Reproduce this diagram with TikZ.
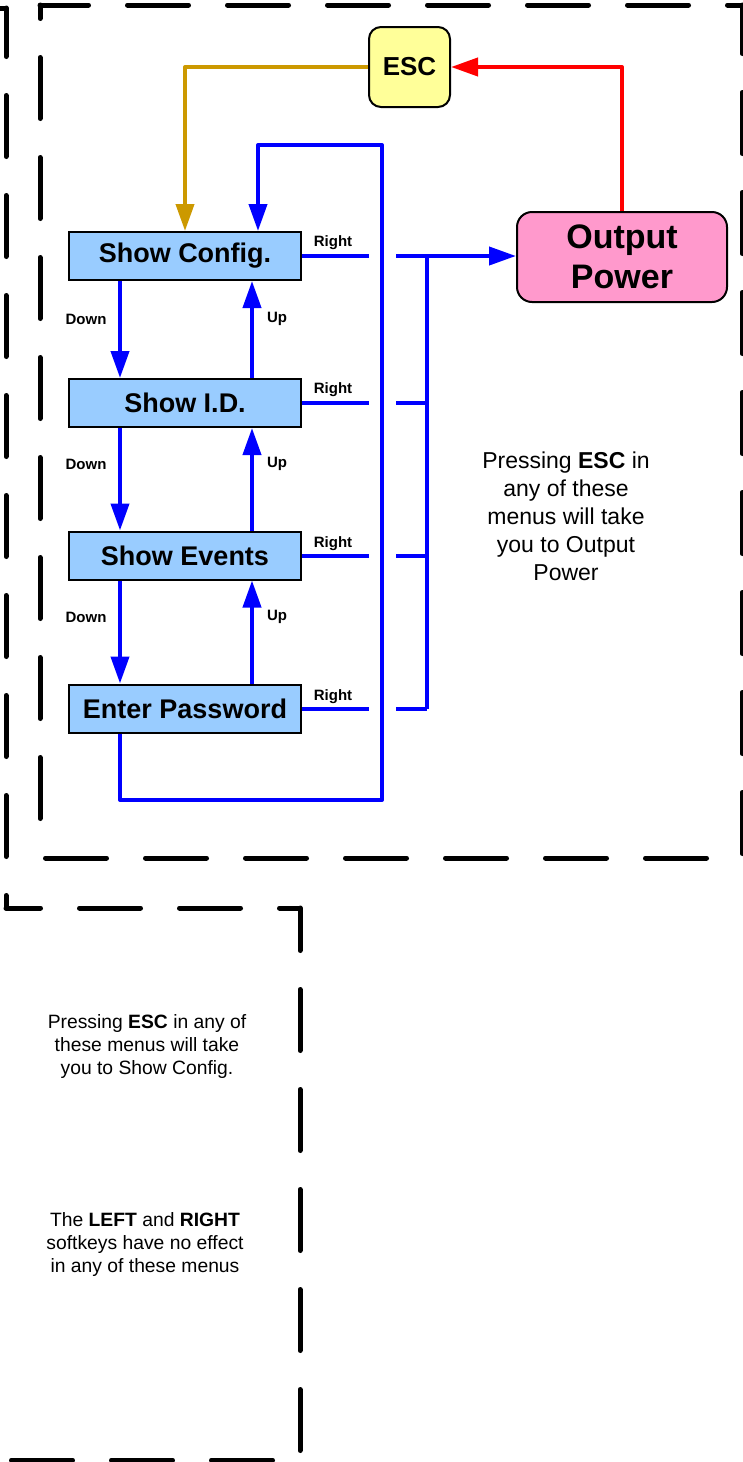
\documentclass[tikz,border=0pt]{standalone}
\usepackage{fontspec}
\setmainfont{Liberation Sans}
\usetikzlibrary{arrows.meta,calc}

\definecolor{menublue}{HTML}{99CCFF}
\definecolor{escyellow}{HTML}{FFFF99}
\definecolor{outpink}{HTML}{FF99CC}
\definecolor{escorange}{HTML}{CC9900}
\definecolor{linkblue}{HTML}{0000FF}
\definecolor{linkred}{HTML}{FF0000}

\tikzset{
  menubox/.style={draw=black, line width=2pt, fill=menublue, minimum width=232pt,
    minimum height=48pt, inner sep=0pt, font=\fontsize{27}{32}\selectfont\bfseries},
  escbox/.style={draw=black, line width=2pt, fill=escyellow, rounded corners=12pt,
    minimum width=81pt, minimum height=80pt, inner sep=0pt,
    font=\fontsize{26}{31}\selectfont\bfseries},
  outbox/.style={draw=black, line width=2pt, fill=outpink, rounded corners=15pt,
    minimum width=210pt, minimum height=90pt, inner sep=0pt, align=center,
    font=\fontsize{34}{40}\selectfont\bfseries},
  tipstyle/.style={-{Triangle[length=27pt,width=18pt]}},
  bline/.style={draw=linkblue, line width=4pt, line join=round},
  barrow/.style={bline, tipstyle},
  oarrow/.style={draw=escorange, line width=4pt, line join=round, tipstyle},
  rarrow/.style={draw=linkred, line width=4pt, line join=round, tipstyle},
  keylbl/.style={inner sep=0pt, font=\fontsize{15}{18}\selectfont\bfseries},
  note/.style={inner sep=0pt, align=center},
  border/.style={draw=black, line width=5pt, line cap=round, dash pattern=on 61pt off 39pt},
}

\begin{document}
\begin{tikzpicture}[x=1pt, y=-1pt]
\useasboundingbox (0,0) rectangle (743,1462);

% dashed group outlines
\draw[border, dash phase=12.5pt] (40,5) -- (742,5);
\draw[border, dash phase=12.5pt] (742,5) -- (742,858);
\draw[border, dash phase=94.5pt] (40,858) -- (742,858);
\draw[border, dash phase=47.5pt] (40,5) -- (40,850);
\draw[border, dash pattern=] (0,8) -- (6,8);
\draw[border, dash phase=12.5pt] (6,8) -- (6,908);
\draw[border, dash phase=26.5pt] (6,908) -- (300,908);
\draw[border, dash phase=18.5pt] (300,908) -- (300,1460);
\draw[border, dash phase=72.5pt] (300,1460) -- (0,1460);

% menu boxes
\node[menubox] (cfg) at (185,256) {Show Config.};
\node[menubox] (sid) at (185,403) {Show I.D.};
\node[menubox] (sev) at (185,555.5) {Show Events};
\node[menubox] (pwd) at (185,708.5) {Enter Password};
\node[escbox] (esc) at (409.5,67) {ESC};
\node[outbox] (out) at (622,257) {Output\\Power};

% helper coordinates for the right-hand wiring
\coordinate (hopL) at (369,0);
\coordinate (hopR) at (396,0);
\coordinate (busx) at (427,0);
\coordinate (lb) at (382,800);
\coordinate (lt) at (382,145);

% Down / Up links
\draw[barrow] ([xshift=-65pt]cfg.south) -- ([xshift=-65pt]sid.north);
\draw[barrow] ([xshift=-65pt]sid.south) -- ([xshift=-65pt]sev.north);
\draw[barrow] ([xshift=-65pt]sev.south) -- ([xshift=-65pt]pwd.north);
\draw[barrow] ([xshift=67pt]sid.north) -- ([xshift=67pt]cfg.south);
\draw[barrow] ([xshift=67pt]sev.north) -- ([xshift=67pt]sid.south);
\draw[barrow] ([xshift=67pt]pwd.north) -- ([xshift=67pt]sev.south);

% wrap-around from Enter Password back to Show Config.
\draw[barrow] ([xshift=-65pt]pwd.south) |- (lb) -- (lt) -| ([xshift=73pt]cfg.north);

% Right links, hopping over the wrap-around line
\draw[bline] (cfg.east) -- (cfg.east -| hopL);
\draw[bline] (sid.east) -- (sid.east -| hopL) (sid.east -| hopR) -- (sid.east -| busx);
\draw[bline] (sev.east) -- (sev.east -| hopL) (sev.east -| hopR) -- (sev.east -| busx);
\draw[bline] (pwd.east) -- (pwd.east -| hopL) (pwd.east -| hopR) -- (pwd.east -| busx);
\draw[bline] (cfg.east -| busx) -- (pwd.east -| busx);
\draw[barrow] (cfg.east -| hopR) -- (cfg.east -| out.west);

% ESC links
\draw[oarrow] (esc.west) -| (cfg.north);
\draw[rarrow] (out.north) |- (esc.east);

% key labels
\node[keylbl] (r1) at (333,243) {Right};
\node[keylbl] (r2) at (333,390) {Right};
\node[keylbl] (r3) at (333,544) {Right};
\node[keylbl] (r4) at (333,697) {Right};
\node[keylbl] (d1) at (86,319) {Down};
\node[keylbl] (d2) at (86,464) {Down};
\node[keylbl] (d3) at (86,617) {Down};
\node[keylbl] (u1) at (277,319) {Up};
\node[keylbl] (u2) at (277,464) {Up};
\node[keylbl] (u3) at (277,617) {Up};

% notes
\node[note, font=\fontsize{23}{28}\selectfont] (n1) at (566,516)
  {Pressing \textbf{ESC} in\\any of these\\menus will take\\you to Output\\Power};
\node[note, font=\fontsize{19.3}{23}\selectfont] (n2) at (147,1046)
  {Pressing \textbf{ESC} in any of\\these menus will take\\you to Show Config.};
\node[note, font=\fontsize{19.3}{23}\selectfont] (n3) at (145,1244)
  {The \textbf{LEFT} and \textbf{RIGHT}\\softkeys have no effect\\in any of these menus};
\end{tikzpicture}
\end{document}
